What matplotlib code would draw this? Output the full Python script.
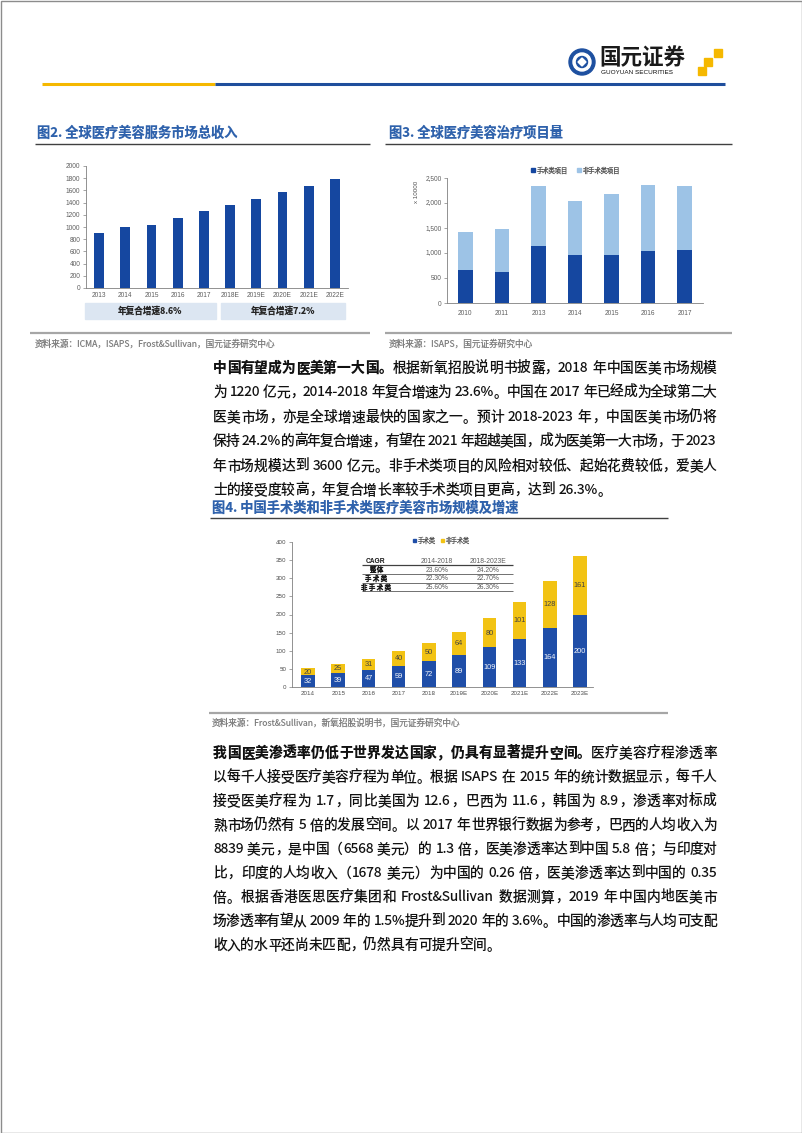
import matplotlib
matplotlib.use('Agg')
import matplotlib.pyplot as plt
from matplotlib.patches import Rectangle, Circle, Polygon
from matplotlib.ticker import FuncFormatter

W, H = 802, 1133
CJK = ['Noto Sans CJK SC', 'DejaVu Sans']
NUM = ['Liberation Sans', 'DejaVu Sans']
plt.rcParams['font.family'] = CJK
plt.rcParams['text.hinting'] = 'default'

# ---------------- data ----------------
fig2_years = ['2013', '2014', '2015', '2016', '2017', '2018E', '2019E', '2020E', '2021E', '2022E']
fig2_revenue = [909, 997, 1030, 1151, 1255, 1364, 1463, 1567, 1671, 1786]
fig2_cagr = ['年复合增速8.6%', '年复合增速7.2%']

fig3_years = ['2010', '2011', '2013', '2014', '2015', '2016', '2017']
fig3_surgical = [667, 627, 1147, 953, 953, 1033, 1067]
fig3_nonsurgical = [753, 846, 1200, 1080, 1220, 1334, 1280]
fig3_legend = ['手术类项目', '非手术类项目']

fig4_years = ['2014', '2015', '2016', '2017', '2018', '2019E', '2020E', '2021E', '2022E', '2023E']
fig4_surgical = [32, 39, 47, 59, 72, 89, 109, 133, 164, 200]
fig4_nonsurgical = [20, 25, 31, 40, 50, 64, 80, 101, 128, 161]
fig4_legend = ['手术类', '非手术类']
cagr_header = ['CAGR', '2014-2018', '2018-2023E']
cagr_rows = [['整体', '23.60%', '24.20%'],
             ['手术类', '22.30%', '22.70%'],
             ['非手术类', '25.60%', '26.30%']]

para1_lead = '中国有望成为医美第一大国。'
para1 = ['中国有望成为医美第一大国。根据新氧招股说明书披露，2018 年中国医美市场规模',
         '为 1220 亿元，2014-2018 年复合增速为 23.6%。中国在 2017 年已经成为全球第二大',
         '医美市场，亦是全球增速最快的国家之一。预计 2018-2023 年，中国医美市场仍将',
         '保持 24.2%的高年复合增速，有望在 2021 年超越美国，成为医美第一大市场，于 2023',
         '年市场规模达到 3600 亿元。非手术类项目的风险相对较低、起始花费较低，爱美人',
         '士的接受度较高，年复合增长率较手术类项目更高，达到 26.3%。']
para2_lead = '我国医美渗透率仍低于世界发达国家，仍具有显著提升空间。'
para2 = ['我国医美渗透率仍低于世界发达国家，仍具有显著提升空间。医疗美容疗程渗透率',
         '以每千人接受医疗美容疗程为单位。根据 ISAPS 在 2015 年的统计数据显示，每千人',
         '接受医美疗程为 1.7，同比美国为 12.6，巴西为 11.6，韩国为 8.9，渗透率对标成',
         '熟市场仍然有 5 倍的发展空间。以 2017 年世界银行数据为参考，巴西的人均收入为',
         '8839 美元，是中国（6568 美元）的 1.3 倍，医美渗透率达到中国 5.8 倍；与印度对',
         '比，印度的人均收入（1678 美元）为中国的 0.26 倍，医美渗透率达到中国的 0.35',
         '倍。根据香港医思医疗集团和 Frost&Sullivan 数据测算，2019 年中国内地医美市',
         '场渗透率有望从 2009 年的 1.5%提升到 2020 年的 3.6%。中国的渗透率与人均可支配',
         '收入的水平还尚未匹配，仍然具有可提升空间。']

# colours
BLUE = '#1547A0'
LIGHT = '#9DC3E6'
BLUE4 = '#1F4EA8'
YELLOW = '#F2C314'
TITLE = '#2F62AC'
GREY_TXT = '#595959'

fig = plt.figure(figsize=(W / 100, H / 100), dpi=100)
page = fig.add_axes([0, 0, 1, 1])
page.set_xlim(0, W)
page.set_ylim(H, 0)
page.axis('off')


def axes_px(x0, y0, x1, y1):
    return fig.add_axes([x0 / W, 1 - y1 / H, (x1 - x0) / W, (y1 - y0) / H])


def style(ax):
    ax.patch.set_alpha(0)
    for s in ['top', 'right']:
        ax.spines[s].set_visible(False)
    for s in ['left', 'bottom']:
        ax.spines[s].set_color('#808080')
        ax.spines[s].set_linewidth(0.6)
    ax.tick_params(axis='y', length=2, width=0.5, color='#808080', labelsize=4.7,
                   labelcolor=GREY_TXT, pad=2, labelfontfamily=NUM)
    ax.tick_params(axis='x', length=0, labelsize=4.7, labelcolor=GREY_TXT,
                   labelfontfamily=NUM)


def hline(x0, x1, y, color, lw):
    page.plot([x0, x1], [y, y], color=color, lw=lw, solid_capstyle='butt')


# ---------------- page frame & header ----------------
page.add_patch(Rectangle((0.5, 0.5), W - 1, H - 1, fill=False, ec='#8c8c8c', lw=1))
hline(42, 215, 84, '#F5B800', 2.2)
hline(215, 725, 84, '#1F4E9C', 2.2)
page.add_patch(Circle((582, 62), 13, color='#1E50A0'))
page.add_patch(Circle((582, 62), 9, color='white'))
page.add_patch(Circle((582, 62), 5.5, color='#1E50A0'))
page.add_patch(Polygon([(582, 58), (586, 62), (582, 66), (578, 62)], color='white'))
page.text(599, 58, '国元证券', fontsize=15.5, weight='bold', color='#1a1a1a', va='center')
page.text(601, 72, 'GUOYUAN SECURITIES', fontsize=4.6, color='#1a1a1a', va='center',
          family=NUM)
for sx, sy in [(714, 49), (704, 58), (698, 67)]:
    page.add_patch(Rectangle((sx, sy), 8, 8, color='#F5B800'))

# ---------------- figure 2 ----------------
page.text(37, 133, '图2. 全球医疗美容服务市场总收入', fontsize=9.5, weight='bold',
          color=TITLE, va='center')
hline(35, 370, 144, '#404040', 1)
ax2 = axes_px(86, 166, 348, 288)
x2 = range(len(fig2_years))
ax2.bar(x2, fig2_revenue, width=0.38, color=BLUE)
ax2.set_xlim(-0.5, 9.5)
ax2.set_ylim(0, 2000)
ax2.set_yticks(range(0, 2001, 200))
ax2.set_xticks(list(x2))
ax2.set_xticklabels(fig2_years)
style(ax2)
ax2.tick_params(axis='x', pad=3)
for (bx0, bx1), label in zip([(85, 216), (221, 345)], fig2_cagr):
    page.add_patch(Rectangle((bx0, 303), bx1 - bx0, 16, color='#DCE6F2'))
    page.text((bx0 + bx1) / 2, 311, label, fontsize=6.2, weight='bold',
              color='#262626', ha='center', va='center')
hline(30, 370, 333, '#A6A6A6', 1.6)
page.text(35, 344, '资料来源：ICMA，ISAPS，Frost&Sullivan，国元证券研究中心', fontsize=6.2,
          color='#7f7f7f', va='center')

# ---------------- figure 3 ----------------
page.text(389, 133, '图3. 全球医疗美容治疗项目量', fontsize=9.5, weight='bold',
          color=TITLE, va='center')
hline(385, 732, 144, '#404040', 1)
ax3 = axes_px(447, 178, 703, 303)
x3 = range(len(fig3_years))
ax3.bar(x3, fig3_surgical, width=0.4, color=BLUE)
ax3.bar(x3, fig3_nonsurgical, width=0.4, bottom=fig3_surgical, color=LIGHT)
ax3.set_xlim(-0.5, 6.5)
ax3.set_ylim(0, 2500)
ax3.set_yticks(range(0, 2501, 500))
ax3.yaxis.set_major_formatter(FuncFormatter(lambda v, p: f'{int(v):,}'))
ax3.set_xticks(list(x3))
ax3.set_xticklabels(fig3_years)
style(ax3)
ax3.tick_params(axis='x', pad=5)
page.text(417, 192, 'x 10000', rotation=90, fontsize=4.5, color=GREY_TXT,
          ha='center', va='center', family=NUM)
for lx, col, label in [(531, BLUE, fig3_legend[0]), (577, LIGHT, fig3_legend[1])]:
    page.add_patch(Rectangle((lx, 168), 4, 4, color=col))
    page.text(lx + 5.5, 170, label, fontsize=4.5, color=GREY_TXT, va='center')
hline(385, 732, 333, '#A6A6A6', 1.6)
page.text(389, 344, '资料来源：ISAPS，国元证券研究中心', fontsize=6.2, color='#7f7f7f',
          va='center')

# ---------------- paragraphs (justified, one text per glyph / number run) ----------------
renderer = fig.canvas.get_renderer()


def text_w(s, size, bold):
    t = page.text(0, 0, s, fontsize=size, weight='bold' if bold else 'normal')
    w = t.get_window_extent(renderer).width
    t.remove()
    return w


def draw_para(lines, lead, y0, step, x0=213, x1=717, size=9.85):
    em = size * 100 / 72
    for i, line in enumerate(lines):
        nb = len(lead) if i == 0 else 0
        toks = []
        buf, buf_bold = '', False
        for k, ch in enumerate(line):
            bold = k < nb
            if ord(ch) < 128 and ch != ' ':
                buf += ch
                buf_bold = bold
                continue
            if buf:
                toks.append((buf, buf_bold, text_w(buf, size, buf_bold)))
                buf = ''
            if ch == ' ':
                toks.append(('', bold, 0.28 * em))
            else:
                toks.append((ch, bold, em))
        if buf:
            toks.append((buf, buf_bold, text_w(buf, size, buf_bold)))
        total = sum(t[2] for t in toks)
        gap = 0
        if i < len(lines) - 1 and len(toks) > 1:
            gap = (x1 - x0 - total) / (len(toks) - 1)
        x = x0
        y = round(y0 + i * step + 0.36 * em)
        for s, bold, w in toks:
            if s:
                page.text(round(x), y, s, fontsize=size, weight='bold' if bold else 'normal',
                          color='#111111', va='baseline', ha='left')
            x += w + gap


draw_para(para1, para1_lead, 367, 24.4)

# ---------------- figure 4 ----------------
page.text(212, 508, '图4. 中国手术类和非手术类医疗美容市场规模及增速', fontsize=9.5,
          weight='bold', color=TITLE, va='center')
hline(210, 668, 518, '#404040', 1)
ax4 = axes_px(292, 542, 593, 687)
x4 = range(len(fig4_years))
b1 = ax4.bar(x4, fig4_surgical, width=0.45, color=BLUE4)
b2 = ax4.bar(x4, fig4_nonsurgical, width=0.45, bottom=fig4_surgical, color=YELLOW)
ax4.bar_label(b1, label_type='center', fontsize=5.3, color='white', family=NUM)
ax4.bar_label(b2, label_type='center', fontsize=5.3, color='#404040', family=NUM)
ax4.set_xlim(-0.53, 9.43)
ax4.set_ylim(0, 400)
ax4.set_yticks(range(0, 401, 50))
ax4.set_xticks(list(x4))
ax4.set_xticklabels(fig4_years)
style(ax4)
ax4.tick_params(axis='both', labelsize=4.5)
ax4.tick_params(axis='x', pad=3)
for lx, col, label in [(413, BLUE4, fig4_legend[0]), (441, YELLOW, fig4_legend[1])]:
    page.add_patch(Rectangle((lx, 538.5), 3.2, 3.2, color=col))
    page.text(lx + 4.5, 540, label, fontsize=4.3, color=GREY_TXT, va='center')

# CAGR table
col_x = [376, 437, 488]
hline(362, 513, 565, '#404040', 0.9)
for ly in [573.8, 582.6, 591.4]:
    hline(362, 513, ly, '#595959', 0.6)
for cx, label in zip(col_x, cagr_header):
    page.text(cx, 561, label, fontsize=4.9, ha='center', va='center',
              weight='bold' if label == 'CAGR' else 'normal',
              color='#1a1a1a' if label == 'CAGR' else GREY_TXT, family=NUM)
for r, row in enumerate(cagr_rows):
    ry = 569.6 + r * 8.8
    page.text(col_x[0], ry, ' '.join(row[0]), fontsize=4.6, ha='center', va='center',
              weight='bold', color='#1a1a1a')
    for cx, val in zip(col_x[1:], row[1:]):
        page.text(cx, ry, val, fontsize=4.9, ha='center', va='center',
                  color=GREY_TXT, family=NUM)

hline(209, 668, 713, '#A6A6A6', 1.6)
page.text(212, 723, '资料来源：Frost&Sullivan，新氧招股说明书，国元证券研究中心', fontsize=6.2,
          color='#7f7f7f', va='center')

draw_para(para2, para2_lead, 752, 24.0)

fig.savefig('out.png', dpi=100)
